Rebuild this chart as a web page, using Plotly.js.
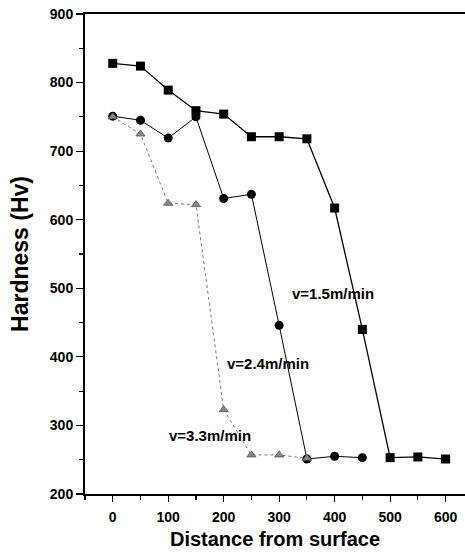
<!DOCTYPE html>
<html><head><meta charset="utf-8">
<script src="https://cdn.plot.ly/plotly-3.0.1.min.js"></script>
<style>html,body{margin:0;padding:0;background:#fff}#c{width:465px;height:553px}</style>
</head><body><div id="c"></div>
<script>
const xSq = [0,50,100,150,200,250,300,350,400,450,500,550,600];
const ySq = [828,824,789,759,754,721,721,718,617,440,253,254,251];
const xCi = [0,50,100,150,200,250,300,350,400,450];
const yCi = [751,745,719,750,631,637,446,251,255,253];
const xTr = [0,50,100,150,200,250,300,350];
const yTr = [750,725,624,622,323,257,257,252];
const labels = ["v=1.5m/min","v=2.4m/min","v=3.3m/min"];
const labelX = [397,280,175];
const labelY = [492,391,285];

const fnt = {family:"Liberation Sans, Arial, sans-serif", color:"#000"};
const traces = [
 {x:xSq,y:ySq,mode:"lines+markers",line:{color:"#000",width:1.3},marker:{symbol:"square",size:9,color:"#000"}},
 {x:xCi,y:yCi,mode:"lines+markers",line:{color:"#000",width:1},marker:{symbol:"circle",size:9,color:"#000"}},
 {x:xTr,y:yTr,mode:"lines+markers",line:{color:"#777",width:1,dash:"dot"},marker:{symbol:"triangle-up",size:8,color:"#888",line:{color:"#555",width:0.8}}}
];
const layout = {
 width:465,height:553,showlegend:false,
 margin:{l:85,r:0,t:14,b:59},
 paper_bgcolor:"#fff",plot_bgcolor:"#fff",
 xaxis:{range:[-50,635],tickvals:[0,100,200,300,400,500,600],ticks:"outside",ticklen:6,tickwidth:1.2,tickcolor:"#000",
   minor:{dtick:50,tick0:-50,ticks:"outside",ticklen:4,tickcolor:"#000"},
   showgrid:false,zeroline:false,showline:true,linecolor:"#000",linewidth:2,mirror:true,
   ticklabelstandoff:3,
   tickfont:Object.assign({size:14,weight:"bold"},fnt),
   title:{text:"Distance from surface",font:Object.assign({size:20,weight:"bold"},fnt),standoff:8}},
 yaxis:{range:[200,900],dtick:100,ticks:"outside",ticklen:7,tickwidth:1.2,tickcolor:"#000",
   minor:{dtick:50,ticks:"outside",ticklen:4,tickcolor:"#000"},
   showgrid:false,zeroline:false,showline:true,linecolor:"#000",linewidth:2,
   tickfont:Object.assign({size:14,weight:"bold"},fnt),
   title:{text:"Hardness (Hv)",font:Object.assign({size:23,weight:"bold"},fnt),standoff:15}},
 annotations: labels.map((t,i)=>({x:labelX[i],y:labelY[i],text:t,showarrow:false,xanchor:"center",yanchor:"middle",font:Object.assign({size:15,weight:"bold"},fnt)}))
};
Plotly.newPlot("c",traces,layout,{displayModeBar:false,staticPlot:true});
</script></body></html>
